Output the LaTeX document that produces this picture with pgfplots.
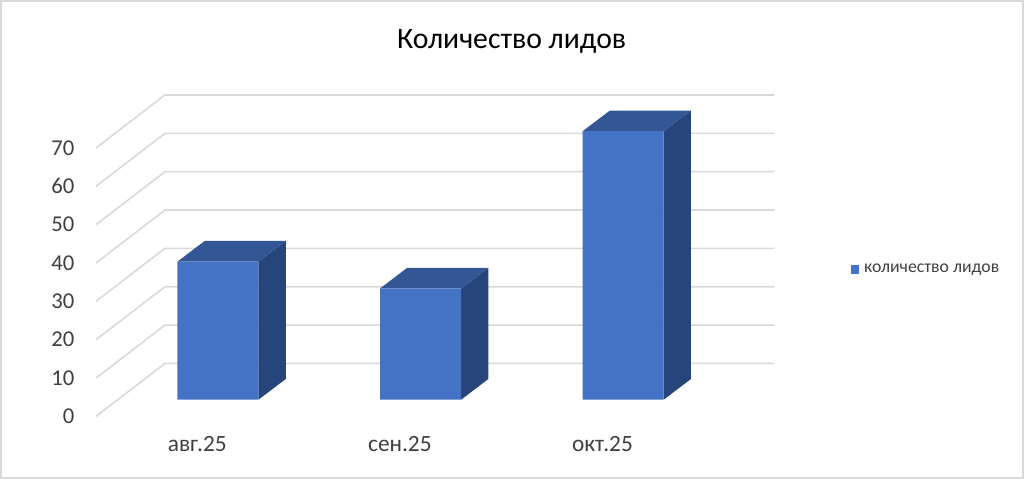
\documentclass[border=0pt]{standalone}
\usepackage{pgfplots}
\pgfplotsset{compat=1.18}
\usepackage{fontspec}
\setmainfont{Carlito}
\definecolor{front}{HTML}{4472C4}
\definecolor{topface}{HTML}{335694}
\definecolor{sideface}{HTML}{28457B}
\definecolor{gridc}{HTML}{D9D9D9}
\definecolor{labelc}{HTML}{404040}
\pgfplotsset{
  full/.style={
    scale only axis,
    width=768pt,
    height=359.25pt,
    at={(0,0)},
    anchor=south west,
    axis line style={draw=none},
    tick style={draw=none},
    clip=false,
  },
  wall/.style={gridc, line width=1.2pt, forget plot},
  face/.style={draw=none, forget plot},
}
\begin{document}
\begin{tikzpicture}
  % walls and value ticks, x in pixels, y on the front plane
  \begin{axis}[
    full,
    xmin=0, xmax=1024,
    ymin=-16.32, ymax=108.58,
    xtick=\empty,
    ytick={0,10,...,70},
    /pgf/number format/assume math mode=true,
    yticklabel style={anchor=east, xshift=59.25pt, font=\fontsize{17}{19}\selectfont, text=labelc},
  ]
    \addplot[wall] coordinates {(96,0) (165,13.82) (774.3,13.82)};
    \addplot[wall] coordinates {(96,10) (165,23.82) (774.3,23.82)};
    \addplot[wall] coordinates {(96,20) (165,33.82) (774.3,33.82)};
    \addplot[wall] coordinates {(96,30) (165,43.82) (774.3,43.82)};
    \addplot[wall] coordinates {(96,40) (165,53.82) (774.3,53.82)};
    \addplot[wall] coordinates {(96,50) (165,63.82) (774.3,63.82)};
    \addplot[wall] coordinates {(96,60) (165,73.82) (774.3,73.82)};
    \addplot[wall] coordinates {(96,70) (165,83.82) (774.3,83.82)};
    % picture frame
    \addplot[gridc, line width=1.5pt, forget plot] coordinates {(1,108.32) (1023,108.32) (1023,-16.06) (1,-16.06)} -- cycle;
  \end{axis}
  % bars, y on the plane of the bar fronts
  \begin{axis}[
    full,
    xmin=-1.0757, xmax=3.9785,
    ymin=-20.68, ymax=104.22,
    xtick={0,1,2},
    xticklabels={авг.25,сен.25,окт.25},
    xticklabel style={anchor=center, xshift=-15.5pt, yshift=26pt, font=\fontsize{17.5}{20}\selectfont, text=labelc},
    ytick=\empty,
    title={Количество лидов},
    title style={at={(axis description cs:0.4997,0.896)}, anchor=center, font=\fontsize{22.3}{26}\selectfont, text=black},
    legend style={at={(axis description cs:0.8305,0.437)}, anchor=west, draw=none, fill=none, font=\fontsize{13.3}{15}\selectfont, text=labelc, inner sep=0pt},
    legend cell align=left,
    legend image code/.code={\fill[front] (0cm,-3.4pt) rectangle (6.5pt,3.4pt); \path (8pt,0pt);},
  ]
    \addplot[face, fill=sideface] coordinates {(0.2,0) (0.3347,5.4) (0.3347,41.4) (0.2,36)} -- cycle;
    \addplot[face, fill=topface] coordinates {(-0.2,36) (-0.0653,41.4) (0.3347,41.4) (0.2,36)} -- cycle;
    \addplot[face, fill=sideface] coordinates {(1.2,0) (1.3347,5.4) (1.3347,34.4) (1.2,29)} -- cycle;
    \addplot[face, fill=topface] coordinates {(0.8,29) (0.9347,34.4) (1.3347,34.4) (1.2,29)} -- cycle;
    \addplot[face, fill=sideface] coordinates {(2.2,0) (2.3347,5.4) (2.3347,75.4) (2.2,70)} -- cycle;
    \addplot[face, fill=topface] coordinates {(1.8,70) (1.9347,75.4) (2.3347,75.4) (2.2,70)} -- cycle;
    \addplot[ybar, bar width=60.75pt, bar shift=0pt, fill=front, draw=none] coordinates {(0,36) (1,29) (2,70)};
    \addlegendentry{количество лидов}
  \end{axis}
\end{tikzpicture}
\end{document}
